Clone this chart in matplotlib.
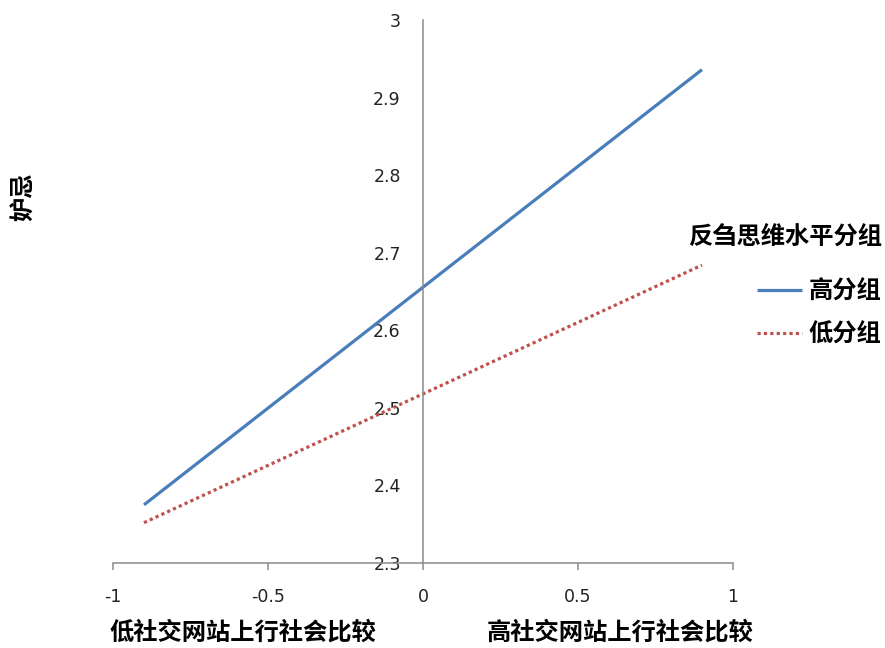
import matplotlib
matplotlib.use("Agg")
import matplotlib.pyplot as plt

# simple slopes data
x_vals = [-0.9, 0.9]
high_group = [2.375, 2.936]
low_group = [2.352, 2.684]
series_names = ["高分组", "低分组"]
legend_title = "反刍思维水平分组"
y_label = "妒忌"
x_low_label = "低社交网站上行社会比较"
x_high_label = "高社交网站上行社会比较"
x_ticks = [-1, -0.5, 0, 0.5, 1]
x_tick_labels = ["-1", "-0.5", "0", "0.5", "1"]
y_ticks = [2.3, 2.4, 2.5, 2.6, 2.7, 2.8, 2.9, 3.0]
y_tick_labels = ["2.3", "2.4", "2.5", "2.6", "2.7", "2.8", "2.9", "3"]

cjk = ["Noto Sans CJK SC", "DejaVu Sans"]
W, H = 885, 648
fs = 17.5

fig = plt.figure(figsize=(8.85, 6.48), dpi=100)
ax = fig.add_axes([113 / W, (H - 563) / H, 620 / W, 543 / H])

ax.plot(x_vals, high_group, color="#4A7EBB", lw=2.3, label=series_names[0],
        solid_capstyle="butt")
ax.plot(x_vals, low_group, color="#C0504D", lw=2.3, linestyle=(0, (1, 1)),
        label=series_names[1])

ax.set_xlim(-1, 1)
ax.set_ylim(2.3, 3.0)
ax.set_xticks(x_ticks)
ax.set_xticklabels(x_tick_labels)
ax.set_yticks(y_ticks)
ax.set_yticklabels(y_tick_labels)

for s in ["top", "right"]:
    ax.spines[s].set_visible(False)
ax.spines["left"].set_position(("data", 0))
for s in ["left", "bottom"]:
    ax.spines[s].set_color("#8c8c8c")
    ax.spines[s].set_linewidth(1.1)

ax.tick_params(axis="x", direction="out", length=5, width=1.1, color="#8c8c8c",
               pad=13, labelsize=12.5, labelcolor="#222222")
ax.tick_params(axis="y", length=0, pad=16, labelsize=12.5, labelcolor="#222222")
for lab in ax.get_xticklabels() + ax.get_yticklabels():
    lab.set_family("DejaVu Sans")

# legend entries, title drawn separately so the gaps match
ax.legend(frameon=False, loc="upper right",
          bbox_to_anchor=(881 / W, (H - 280) / H), bbox_transform=fig.transFigure,
          prop={"family": cjk, "size": fs, "weight": "bold"},
          handlelength=1.85, handletextpad=0.25, labelspacing=0.76,
          borderpad=0, borderaxespad=0)
fig.text(882 / W, 1 - 237 / H, legend_title, ha="right", va="center",
         family=cjk, fontsize=fs, fontweight="bold")

fig.text(24 / W, 1 - 197 / H, y_label, rotation=90, ha="center", va="center",
         family=cjk, fontsize=fs, fontweight="bold")
fig.text(110 / W, 1 - 633 / H, x_low_label, ha="left", va="center",
         family=cjk, fontsize=fs, fontweight="bold")
fig.text(487 / W, 1 - 633 / H, x_high_label, ha="left", va="center",
         family=cjk, fontsize=fs, fontweight="bold")

fig.savefig("out.png", dpi=100)
